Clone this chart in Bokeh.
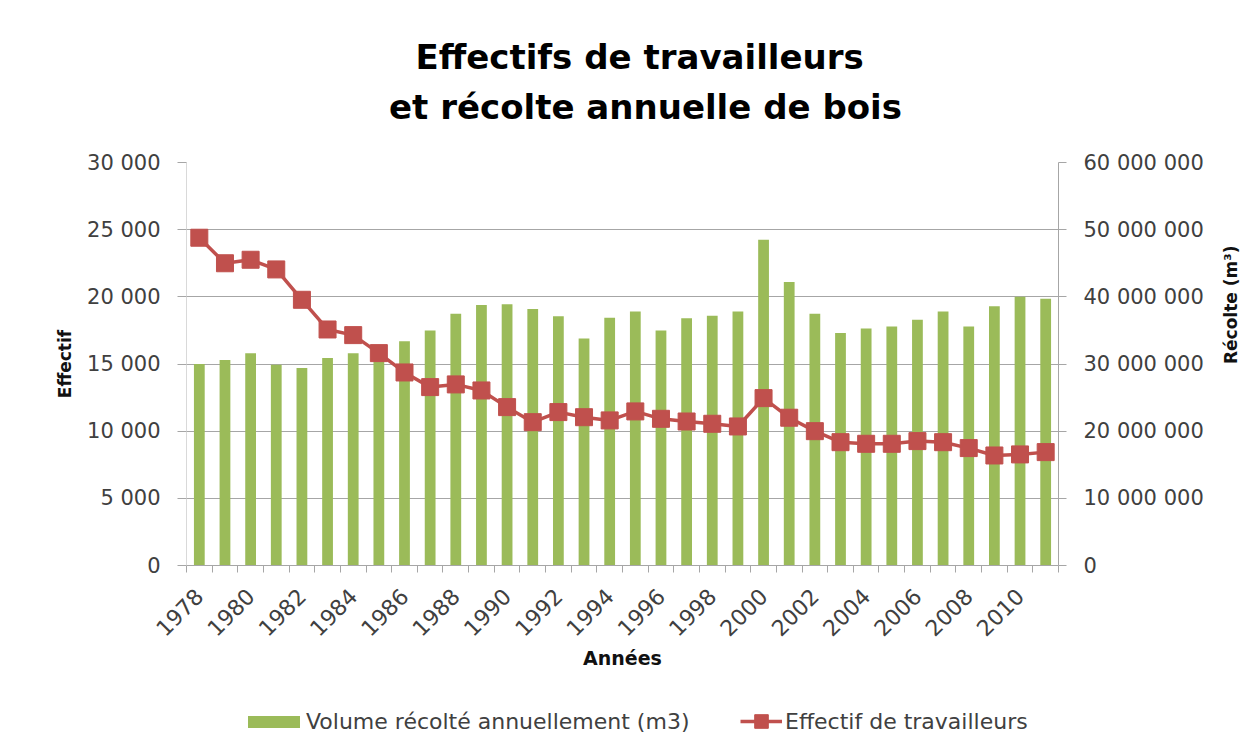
import math
from bokeh.plotting import figure
from bokeh.layouts import column
from bokeh.models import Range1d, LinearAxis, FixedTicker, Legend, LegendItem, Label
from bokeh.embed import file_html
from bokeh.resources import INLINE

# ---------------- data ----------------
years = list(range(1978, 2012))
volume_m3 = [30.0e6, 30.6e6, 31.6e6, 29.9e6, 29.4e6, 30.9e6, 31.6e6, 30.5e6, 33.4e6, 35.0e6,
             37.5e6, 38.8e6, 38.9e6, 38.2e6, 37.1e6, 33.8e6, 36.9e6, 37.8e6, 35.0e6, 36.8e6,
             37.2e6, 37.8e6, 48.5e6, 42.2e6, 37.5e6, 34.6e6, 35.3e6, 35.6e6, 36.6e6, 37.8e6,
             35.6e6, 38.6e6, 40.0e6, 39.7e6]
workers = [24400, 22500, 22760, 22040, 19780, 17570, 17150, 15810, 14370, 13280,
           13480, 13030, 11790, 10670, 11420, 11040, 10800, 11470, 10920, 10720,
           10550, 10350, 12460, 11000, 10000, 9180, 9060, 9060, 9260, 9180,
           8740, 8190, 8270, 8440]
left_ticks = [0, 5000, 10000, 15000, 20000, 25000, 30000]
left_labels = ["0", "5 000", "10 000", "15 000", "20 000", "25 000", "30 000"]
right_ticks = [0, 10e6, 20e6, 30e6, 40e6, 50e6, 60e6]
right_labels = ["0", "10 000 000", "20 000 000", "30 000 000", "40 000 000", "50 000 000", "60 000 000"]
year_labels = [str(y) if y % 2 == 0 else "" for y in years]

title_lines = ["Effectifs  de travailleurs", "et récolte annuelle de bois"]
bar_name = "Volume récolté annuellement (m3)"
line_name = "Effectif de travailleurs"

GREEN = "#9BBB59"
RED = "#C0504D"
GRID = "#a6a6a6"
TXT = "#404040"
FONT = "DejaVu Sans"
W = 1259
FL, FR = 186, 1058   # plot frame edges (all strips share them in the column)


def setp(model, **kw):
    props = model.properties()
    for k, v in kw.items():
        if k in props:
            setattr(model, k, v)


def blank_fig(h):
    f = figure(width=W, height=h, x_range=Range1d(FL, FR), y_range=Range1d(h, 0),
               x_axis_type=None, y_axis_type=None, output_backend="svg",
               toolbar_location=None, title=None,
               min_border_left=FL, min_border_right=W - FR,
               min_border_top=0, min_border_bottom=0)
    f.outline_line_color = None
    f.background_fill_color = "white"
    f.border_fill_color = "white"
    return f


# ---------------- title strip ----------------
tf = blank_fig(130)
for txt, yy in zip(title_lines, [56, 106]):
    tf.add_layout(Label(x=645, y=yy, text=txt, text_align="center", text_baseline="middle",
                        text_font=FONT, text_font_style="bold", text_font_size="34px",
                        text_color="#000000"))

# ---------------- main chart ----------------
p = figure(width=W, height=570,
           x_range=Range1d(years[0] - 0.5, years[-1] + 0.5),
           y_range=Range1d(left_ticks[0], left_ticks[-1]),
           output_backend="svg", toolbar_location=None, title=None,
           min_border_left=FL, min_border_right=W - FR,
           min_border_top=32, min_border_bottom=135)
p.extra_y_ranges = {"vol": Range1d(right_ticks[0], right_ticks[-1])}
p.outline_line_color = None
p.background_fill_color = "white"
p.border_fill_color = "white"

p.xgrid.visible = False
p.ygrid.ticker = FixedTicker(ticks=left_ticks)
p.ygrid.grid_line_color = GRID
p.ygrid.grid_line_width = 1

xa = p.xaxis[0]
xa.ticker = FixedTicker(ticks=years, minor_ticks=[y - 0.5 for y in years] + [years[-1] + 0.5])
xa.major_label_overrides = {y: l for y, l in zip(years, year_labels)}
xa.major_label_orientation = math.pi / 4
xa.major_tick_line_color = None
xa.minor_tick_line_color = GRID
xa.minor_tick_in = 0
xa.minor_tick_out = 7
xa.axis_line_color = GRID
xa.major_label_text_font = FONT
xa.major_label_text_font_size = "22px"
xa.major_label_text_color = TXT
xa.major_label_standoff = 20
xa.axis_label = "Années"
xa.axis_label_text_font = FONT
xa.axis_label_text_font_style = "bold"
xa.axis_label_text_font_size = "19px"
xa.axis_label_text_color = "#111111"
xa.axis_label_standoff = 1

ya = p.yaxis[0]
ya.ticker = FixedTicker(ticks=left_ticks)
ya.major_label_overrides = {t: l for t, l in zip(left_ticks, left_labels)}
ya.axis_line_color = "#d9d9d9"
ya.major_tick_line_color = GRID
ya.major_tick_in = 0
ya.major_tick_out = 9
ya.minor_tick_line_color = None
ya.major_label_text_font = FONT
ya.major_label_text_font_size = "21px"
ya.major_label_text_color = TXT
ya.major_label_standoff = 17
ya.axis_label = "Effectif"
ya.axis_label_text_font = FONT
ya.axis_label_text_font_style = "bold"
ya.axis_label_text_font_size = "17px"
ya.axis_label_text_color = "#111111"
ya.axis_label_standoff = 9

ra = LinearAxis(y_range_name="vol", ticker=FixedTicker(ticks=right_ticks))
ra.major_label_overrides = {t: l for t, l in zip(right_ticks, right_labels)}
ra.axis_line_color = GRID
ra.major_tick_line_color = GRID
ra.major_tick_in = 0
ra.major_tick_out = 8
ra.minor_tick_line_color = None
ra.major_label_text_font = FONT
ra.major_label_text_font_size = "21px"
ra.major_label_text_color = TXT
ra.major_label_standoff = 17
ra.axis_label = "Récolte (m³)"
ra.axis_label_text_font = FONT
ra.axis_label_text_font_style = "bold"
ra.axis_label_text_font_size = "17px"
ra.axis_label_text_color = "#111111"
ra.axis_label_standoff = 24
setp(ra, axis_label_orientation=math.pi / 2)
p.add_layout(ra, "right")

p.vbar(x=years, top=volume_m3, width=0.42, y_range_name="vol",
       fill_color=GREEN, line_color=None)
p.line(years, workers, line_color=RED, line_width=3.5)
p.scatter(years, workers, marker="square", size=17, fill_color=RED, line_color=RED)

# ---------------- legend strip ----------------
# hidden copies of the series supply the legend swatches
lf = blank_fig(51)
lb = lf.vbar(x=years, top=volume_m3, width=0.4, fill_color=GREEN, line_color=None, visible=False)
ll = lf.line(x=years, y=workers, line_color=RED, line_width=3.5, visible=False)
ls = lf.scatter(x=years, y=workers, marker="square", size=12, fill_color=RED,
                line_color=RED, visible=False)
common = dict(orientation="horizontal", padding=0, margin=0, border_line_color=None,
              background_fill_alpha=0, inactive_fill_alpha=0,
              label_text_font=FONT, label_text_font_size="22px", label_text_color=TXT)
leg_a = Legend(items=[LegendItem(label=bar_name, renderers=[lb])], location=(241 - FL, 17),
               glyph_width=65, glyph_height=15, label_standoff=0, **common)
leg_b = Legend(items=[LegendItem(label=line_name, renderers=[ll, ls])], location=(740 - FL, 13),
               glyph_width=42, glyph_height=34, label_standoff=3, **common)
lf.add_layout(leg_a)
lf.add_layout(leg_b)

page = column(tf, p, lf)
open("out.html", "w").write(file_html(page, INLINE))
